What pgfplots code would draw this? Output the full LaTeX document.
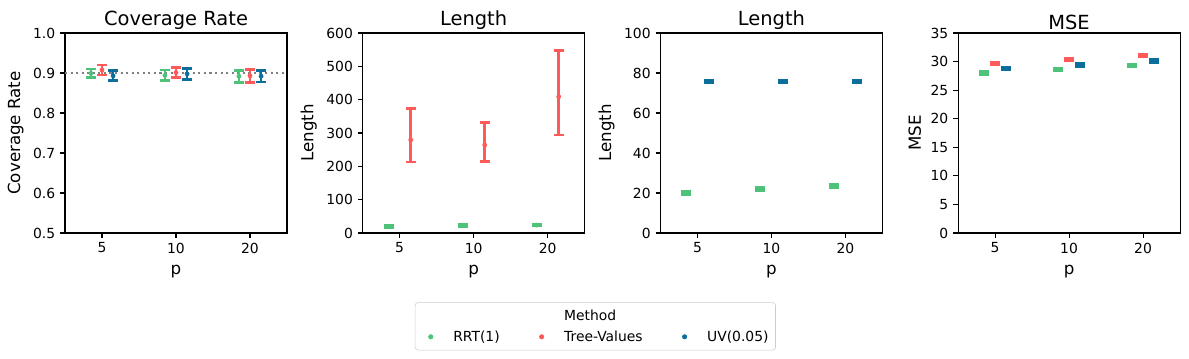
\documentclass[border=0pt]{standalone}
\usepackage{fontspec}
\setmainfont{DejaVu Sans}
\usepackage{pgfplots}
\pgfplotsset{compat=1.18}
\definecolor{cgreen}{RGB}{76,195,121}
\definecolor{cred}{RGB}{255,90,90}
\definecolor{cblue}{RGB}{12,110,155}
\pgfplotsset{
 panel/.style={scale only axis, width=159.84pt, height=144pt, xmin=-0.5, xmax=2.5,
   xtick={0,1,2}, xticklabels={5,10,20}, tick align=outside, xtick pos=left, ytick pos=left,
   major tick length=3.5pt, axis line style={line width=0.8pt}, every tick/.style={black, line width=0.8pt},
   ticklabel style={font=\fontsize{10}{12}\selectfont},
   label style={font=\fontsize{12}{14}\selectfont},
   xlabel style={yshift=-1.5pt},
   title style={font=\fontsize{14}{17}\selectfont, yshift=-7pt},
   xlabel={p}, /pgf/number format/assume math mode=true, anchor=south west},
 eb/.style={only marks, mark=*, mark size=1.5pt, color=#1, mark options={fill=#1, draw=#1},
   error bars/y dir=both, error bars/y explicit,
   error bars/error bar style={line width=1.9pt, color=#1},
   error bars/error mark options={rotate=90, line width=1.9pt, mark size=3.6pt, color=#1}},
 dotimg/.style={legend image code/.code={\path (-8pt,0pt) (14pt,0pt); \fill[##1] (0pt,0pt) circle (1.6pt);}},
 blankimg/.style={legend image code/.code={\path (-8pt,0pt) (14pt,0pt);}},
}
\begin{document}
\begin{tikzpicture}
\path[use as bounding box] (-46.8pt,-90pt) rectangle (809.28pt,167.76pt);
% Panel 1
\begin{axis}[panel, at={(0pt,0pt)}, title={Coverage Rate}, ylabel={Coverage Rate},
  ymin=0.5, ymax=1.0, ytick={0.5,0.6,0.7,0.8,0.9,1.0},
  yticklabel style={/pgf/number format/.cd, fixed, fixed zerofill, precision=1},
  legend columns=3, legend cell align=left,
  legend style={at={(2.389,-0.3465)}, anchor=north, draw=black!20, rounded corners=2pt,
    font=\fontsize{10}{12}\selectfont, row sep=2pt, inner ysep=3pt,
    /tikz/every even column/.append style={column sep=20pt}}]
\addlegendimage{blankimg}\addlegendentry{}
\addlegendimage{blankimg}\addlegendentry{Method}
\addlegendimage{blankimg}\addlegendentry{}
\addlegendimage{dotimg, cgreen}\addlegendentry{RRT(1)}
\addlegendimage{dotimg, cred}\addlegendentry{Tree-Values}
\addlegendimage{dotimg, cblue}\addlegendentry{UV(0.05)}
\addplot[gray, line width=1.5pt, dash pattern=on 1.5pt off 2.5pt, forget plot] coordinates {(-0.5,0.9) (2.5,0.9)};
\addplot[forget plot, eb=cgreen] coordinates {(-0.15,0.899) +- (0,0.011) (0.85,0.894) +- (0,0.0135) (1.85,0.892) +- (0,0.015)};
\addplot[forget plot, eb=cred] coordinates {(0,0.9075) +- (0,0.0125) (1,0.901) +- (0,0.013) (2,0.893) +- (0,0.0165)};
\addplot[forget plot, eb=cblue] coordinates {(0.15,0.893) +- (0,0.0125) (1.15,0.898) +- (0,0.014) (2.15,0.892) +- (0,0.0145)};
\end{axis}
% Panel 2
\begin{axis}[panel, at={(214.3pt,0pt)}, title={Length}, ylabel={Length},
  ymin=0, ymax=600, ytick={0,100,...,600}]
\addplot[eb=cgreen] coordinates {(-0.15,20.2) +- (0,3) (0.85,22) +- (0,3) (1.85,23.7) +- (0,3)};
\addplot[eb=cred] coordinates {(0.15,279.5) += (0,93.5) -= (0,66) (1.15,264) += (0,66.7) -= (0,50.4) (2.15,409) += (0,138.8) -= (0,114.5)};
\end{axis}
% Panel 3
\begin{axis}[panel, at={(428.7pt,0pt)}, title={Length}, ylabel={Length},
  ymin=0, ymax=100, ytick={0,20,...,100}]
\addplot[eb=cgreen] coordinates {(-0.15,20.1) +- (0,0.8) (0.85,22.0) +- (0,0.8) (1.85,23.6) +- (0,0.8)};
\addplot[eb=cblue] coordinates {(0.15,75.6) +- (0,0.5) (1.15,75.6) +- (0,0.5) (2.15,75.6) +- (0,0.5)};
\end{axis}
% Panel 4
\begin{axis}[panel, at={(643pt,0pt)}, title={MSE}, ylabel={MSE},
  ymin=0, ymax=35, ytick={0,5,...,35}]
\addplot[eb=cgreen] coordinates {(-0.15,28.0) +- (0,0.22) (0.85,28.6) +- (0,0.22) (1.85,29.3) +- (0,0.22)};
\addplot[eb=cred] coordinates {(0,29.6) +- (0,0.22) (1,30.3) +- (0,0.22) (2,31.0) +- (0,0.22)};
\addplot[eb=cblue] coordinates {(0.15,28.8) +- (0,0.22) (1.15,29.4) +- (0,0.22) (2.15,30.1) +- (0,0.22)};
\end{axis}
\end{tikzpicture}
\end{document}
